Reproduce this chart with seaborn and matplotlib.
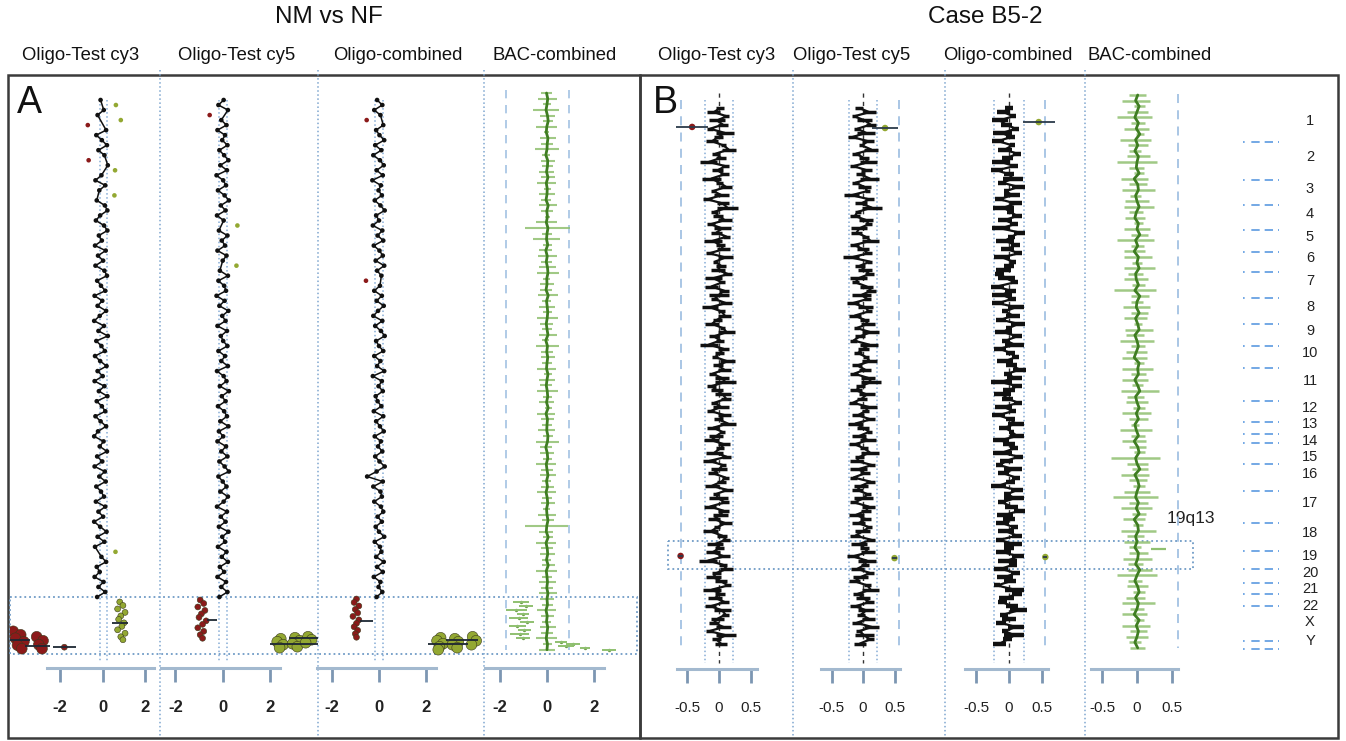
import numpy as np
import pandas as pd
import seaborn as sns
import matplotlib.pyplot as plt
from matplotlib.patches import Rectangle

sns.set_theme(style="white")
plt.rcParams["font.family"] = ["Liberation Sans", "DejaVu Sans"]

W, H = 1346, 741

# ---------------- values ----------------
chrom_names = [str(i) for i in range(1, 23)] + ["X", "Y"]
# chromosome ends along the case B5-2 genome axis (0-100)
chrom_ends = [6.3, 13.3, 17.9, 22.6, 26.6, 30.3, 35.1, 39.9, 44.0, 48.1, 54.2, 58.0,
              60.3, 61.9, 65.8, 70.8, 76.7, 81.9, 85.2, 87.8, 89.8, 92.1, 98.5, 100.0]

column_titles = ["Oligo-Test cy3", "Oligo-Test cy5", "Oligo-combined", "BAC-combined"]

# panel A (NM vs NF): autosomal log2 ratios, genome position 0-100
nm_cy3 = [-0.10, 0.62, 0.05, -0.24, 0.85, -0.70, 0.16, -0.30, -0.04, 0.20,
          -0.20, 0.08, -0.66, 0.24, 0.58, -0.06, -0.34, 0.12, -0.16, 0.55,
          -0.28, 0.10, 0.22, -0.12, -0.32, 0.06, 0.22, -0.18, -0.04, -0.36,
          0.14, -0.22, 0.02, -0.34, 0.08, 0.20, -0.26, -0.08, 0.12, -0.38,
          -0.02, -0.24, 0.16, -0.14, -0.40, 0.06, -0.20, 0.24, -0.30, -0.06,
          0.10, -0.36, -0.12, 0.18, -0.24, 0.00, -0.38, 0.08, -0.18, 0.22,
          -0.28, -0.04, 0.12, -0.34, -0.10, 0.16, -0.22, -0.40, 0.04, -0.14,
          0.20, -0.26, -0.02, -0.38, 0.10, -0.16, 0.14, -0.30, -0.08, 0.06,
          -0.32, 0.12, -0.20, 0.02, -0.40, -0.12, 0.18, -0.24, 0.08, -0.36,
          0.60, -0.06, 0.16, -0.28, -0.14, -0.38, 0.04, -0.20, 0.12, -0.26]
nm_cy5 = [0.04, -0.18, 0.22, -0.55, -0.06, 0.16, -0.22, 0.10, -0.02, 0.20,
          -0.14, 0.06, 0.24, -0.10, 0.18, -0.26, 0.02, 0.14, -0.20, 0.08,
          0.26, -0.08, 0.12, -0.24, 0.04, 0.62, -0.16, 0.20, -0.04, 0.10,
          -0.22, 0.16, 0.00, 0.58, -0.12, 0.22, -0.18, 0.06, 0.14, -0.26,
          0.08, -0.14, 0.24, -0.02, 0.12, -0.22, 0.18, -0.08, 0.02, 0.20,
          -0.18, 0.10, -0.06, 0.22, -0.24, 0.04, 0.16, -0.12, 0.26, -0.04,
          0.12, -0.20, 0.06, 0.18, -0.10, 0.24, -0.16, 0.02, -0.22, 0.14,
          -0.06, 0.20, -0.14, 0.08, 0.26, -0.18, 0.00, 0.16, -0.10, 0.22,
          0.04, -0.24, 0.18, -0.08, 0.12, -0.16, 0.24, -0.02, 0.10, -0.20,
          0.16, -0.04, 0.22, -0.12, 0.06, -0.22, 0.14, -0.06, 0.20, -0.14]
nm_comb = [-0.08, 0.14, -0.20, 0.06, -0.52, 0.18, -0.12, 0.02, 0.22, -0.16,
           0.10, -0.24, 0.04, 0.20, -0.10, 0.16, -0.28, 0.08, -0.02, 0.12,
           -0.18, 0.06, 0.24, -0.12, 0.00, -0.26, 0.14, -0.06, 0.18, -0.22,
           0.02, 0.16, -0.14, 0.22, -0.08, 0.10, -0.55, 0.04, -0.20, 0.12,
           -0.10, 0.20, -0.04, -0.24, 0.14, -0.16, 0.08, 0.24, -0.12, 0.00,
           0.18, -0.20, 0.06, -0.08, 0.22, -0.26, 0.12, -0.02, 0.16, -0.14,
           -0.06, 0.10, -0.22, 0.18, -0.12, 0.04, 0.20, -0.18, 0.08, -0.04,
           0.14, -0.16, 0.02, 0.24, -0.10, -0.50, 0.16, -0.24, 0.06, 0.12,
           -0.20, 0.08, 0.18, -0.06, 0.12, -0.14, 0.00, 0.22, -0.18, 0.04,
           0.10, -0.12, 0.20, -0.08, 0.16, -0.22, 0.06, -0.02, 0.14, -0.10]
nm_bac = [-0.02, 0.03, 0.00, -0.04, 0.02, 0.05, -0.01, -0.03, 0.04, 0.01,
          0.00, -0.05, 0.03, 0.02, -0.02, 0.04, -0.03, 0.01, 0.00, -0.04,
          0.05, -0.01, 0.02, -0.03, 0.04, 0.00, -0.02, 0.03, -0.05, 0.01,
          -0.03, 0.02, 0.04, -0.01, 0.00, -0.04, 0.05, -0.02, 0.01, 0.03,
          0.01, -0.03, 0.00, 0.04, -0.05, 0.02, -0.01, 0.03, 0.00, -0.02,
          0.04, 0.00, -0.03, 0.01, 0.03, -0.02, 0.05, -0.04, 0.02, 0.00,
          -0.01, 0.04, 0.02, -0.05, 0.01, 0.03, -0.03, 0.00, 0.04, -0.02,
          0.02, -0.04, 0.01, 0.03, -0.02, 0.00, 0.04, -0.01, -0.03, 0.05,
          -0.04, 0.01, 0.03, -0.02, 0.05, -0.03, 0.00, 0.02, -0.01, 0.04,
          0.00, 0.02, -0.04, 0.01, -0.02, 0.03, 0.00, -0.03, 0.02, 0.00]
nm_bac_err = [0.25, 0.40, 0.15, 0.55, 0.30, 0.20, 0.45, 0.10, 0.35, 0.25,
              0.50, 0.18, 0.30, 0.22, 0.30, 0.28, 0.40, 0.15, 0.32, 0.20,
              0.38, 0.25, 0.12, 0.45, 0.95, 0.20, 0.55, 0.18, 0.28, 0.40,
              0.22, 0.35, 0.48, 0.15, 0.30, 0.25, 0.42, 0.20, 0.33, 0.18,
              0.45, 0.28, 0.20, 0.38, 0.15, 0.50, 0.25, 0.30, 0.22, 0.40,
              0.18, 0.32, 0.26, 0.44, 0.20, 0.30, 0.15, 0.38, 0.28, 0.22,
              0.35, 0.20, 0.48, 0.25, 0.30, 0.18, 0.42, 0.26, 0.34, 0.20,
              0.28, 0.40, 0.22, 0.30, 0.15, 0.36, 0.24, 0.90, 0.30, 0.20,
              0.42, 0.25, 0.32, 0.18, 0.28, 0.45, 0.20, 0.35, 0.26, 0.38,
              0.30, 0.22, 0.40, 0.28, 0.18, 0.34, 0.25, 0.45, 0.20, 0.32]

# panel A: sex chromosome clones (genome position 100-111)
nm_cy3_sex_pos = [101.0, 101.7, 102.4, 103.1, 103.8, 104.5, 105.2, 105.9, 106.6, 107.3, 108.0, 108.6,
                  106.9, 107.6, 108.3, 109.0, 109.7, 110.4, 108.0, 108.8, 109.6, 110.4, 110.1]
nm_cy3_sex_val = [0.80, 0.95, 0.70, 1.05, 0.85, 0.75, 1.00, 0.90, 0.70, 1.05, 0.85, 0.95,
                  -4.20, -3.85, -4.10, -3.70, -4.00, -3.80, -3.10, -2.80, -3.00, -2.85, -1.80]
nm_cy3_bar_pos = [105.2, 108.6, 109.9, 110.1]
nm_cy3_bar_val = [0.82, -3.88, -3.06, -1.79]
nm_cy3_bar_err = [0.38, 0.47, 0.59, 0.54]

nm_cy5_sex_pos = [100.6, 101.3, 102.0, 102.7, 103.4, 104.1, 104.8, 105.5, 106.2, 106.9, 107.6, 108.3,
                  108.4, 109.0, 109.6, 110.2, 108.2, 108.8, 109.4, 110.0, 108.0, 108.6, 109.2]
nm_cy5_sex_val = [-0.95, -0.80, -1.05, -0.75, -0.90, -1.00, -0.70, -0.85, -1.05, -0.80, -0.95, -0.85,
                  2.45, 2.30, 2.55, 2.40, 3.05, 3.25, 2.95, 3.15, 3.60, 3.75, 3.50]
nm_cy5_bar_pos = [104.7, 109.5, 108.2]
nm_cy5_bar_val = [-0.45, 3.00, 3.40]
nm_cy5_bar_err = [0.20, 1.00, 0.60]

nm_comb_sex_pos = [100.4, 101.1, 101.8, 102.5, 103.2, 103.9, 104.6, 105.3, 106.0, 106.7, 107.4, 108.1,
                   108.2, 108.8, 109.4, 110.0, 110.6, 108.4, 109.0, 109.6, 110.2, 108.0, 108.8, 109.6]
nm_comb_sex_val = [-0.95, -1.05, -0.85, -1.00, -0.90, -1.10, -0.85, -0.95, -1.05, -0.90, -1.00, -0.95,
                   2.60, 2.45, 2.70, 2.55, 2.50, 3.20, 3.35, 3.10, 3.30, 3.95, 4.10, 3.90]
nm_comb_bar_pos = [104.8, 109.4, 108.6]
nm_comb_bar_val = [-0.52, 2.90, 3.50]
nm_comb_bar_err = [0.27, 0.85, 0.67]

nm_bac_sex_pos = [101.0, 101.8, 102.6, 103.4, 104.2, 105.0, 105.8, 106.6, 107.4, 108.2,
                  109.0, 109.4, 109.8, 110.2, 110.6]
nm_bac_sex_val = [-1.10, -0.90, -1.30, -1.00, -1.20, -0.85, -1.25, -0.95, -1.15, -1.00,
                  0.60, 1.10, 0.80, 1.60, 2.60]
nm_bac_sex_err = [0.35, 0.30, 0.45, 0.25, 0.40, 0.30, 0.35, 0.28, 0.40, 0.30,
                  0.25, 0.30, 0.35, 0.20, 0.30]

# panel B (case B5-2): log2 ratios and their spread, genome position 0-100
b5_cy3 = [0.02, -0.08, 0.12, -0.03, 0.06, -0.14, 0.09, -0.01, -0.11, 0.07,
          0.15, -0.05, 0.03, -0.16, 0.10, -0.02, 0.08, -0.12, 0.01, 0.11,
          -0.09, 0.04, -0.18, 0.06, 0.13, -0.07, -0.01, 0.09, -0.13, 0.05,
          -0.04, 0.12, -0.10, 0.02, 0.07, -0.15, 0.10, -0.06, 0.03, -0.02,
          0.14, -0.09, 0.05, -0.12, 0.08, 0.00, -0.07, 0.11, -0.14, 0.04,
          0.09, -0.03, -0.11, 0.06, 0.12, -0.08, 0.02, -0.16, 0.07, 0.01,
          -0.06, 0.13, -0.02, 0.08, -0.10, 0.04, 0.10, -0.12, -0.03, 0.06,
          0.11, -0.07, 0.03, -0.13, 0.09, -0.01, 0.14, -0.09, 0.05, -0.04,
          -0.12, 0.08, 0.02, -0.07, 0.12, -0.15, 0.06, 0.00, -0.09, 0.10,
          0.04, -0.11, 0.13, -0.05, -0.01, 0.09, -0.14, 0.07, 0.02, -0.08,
          0.10, -0.03, -0.13, 0.05, 0.11, -0.06, 0.01, -0.10, 0.08, -0.17,
          0.06, 0.12, -0.04, -0.09, 0.03, 0.14, -0.11, 0.02, -0.06, 0.09,
          -0.13, 0.05, 0.10, -0.02, -0.08, 0.07, -0.15, 0.11, -0.04, 0.03]
b5_cy5 = [-0.06, 0.10, -0.14, 0.03, 0.12, -0.09, 0.05, -0.17, 0.08, -0.02,
          0.13, -0.11, 0.01, 0.09, -0.15, 0.06, -0.04, 0.11, -0.12, 0.02,
          0.07, -0.18, 0.10, -0.03, 0.14, -0.08, -0.13, 0.05, 0.09, -0.06,
          -0.10, 0.04, 0.12, -0.14, 0.00, 0.08, -0.19, 0.11, -0.05, 0.03,
          0.10, -0.07, -0.12, 0.06, 0.13, -0.02, 0.07, -0.16, 0.04, 0.09,
          -0.13, 0.02, 0.08, -0.10, 0.12, -0.05, -0.15, 0.10, 0.01, -0.08,
          0.05, 0.11, -0.09, 0.03, -0.14, 0.08, 0.13, -0.04, -0.11, 0.06,
          -0.02, -0.16, 0.09, 0.04, -0.08, 0.12, -0.12, 0.00, 0.10, -0.06,
          0.08, -0.13, 0.02, 0.11, -0.05, -0.10, 0.14, -0.07, 0.03, -0.15,
          0.12, -0.03, -0.09, 0.07, 0.01, -0.14, 0.09, 0.05, -0.11, 0.04,
          -0.07, 0.10, -0.01, -0.12, 0.13, -0.06, 0.02, 0.08, -0.16, 0.06,
          0.03, -0.09, 0.11, -0.04, -0.13, 0.07, 0.12, -0.08, 0.00, 0.10,
          -0.12, 0.05, -0.03, 0.09, -0.10, 0.14, -0.06, 0.02, 0.11, -0.05]
b5_comb = [0.00, -0.08, 0.06, -0.14, -0.04, 0.10, -0.10, 0.02, -0.16, 0.05,
           -0.06, 0.12, -0.02, -0.12, 0.08, -0.18, 0.00, 0.06, -0.10, 0.14,
           -0.04, 0.04, -0.14, 0.10, -0.08, 0.02, 0.12, -0.06, 0.08, -0.12,
           0.16, 0.04, -0.06, 0.10, -0.02, 0.14, -0.10, 0.06, 0.00, -0.08,
           -0.14, -0.04, 0.08, -0.18, 0.02, -0.10, 0.04, -0.16, 0.10, -0.06,
           0.06, -0.12, 0.14, 0.00, -0.08, 0.12, -0.04, 0.08, -0.14, 0.02,
           0.10, -0.06, 0.04, 0.16, -0.02, 0.08, -0.12, 0.12, 0.00, -0.10,
           -0.02, 0.14, -0.08, 0.06, -0.16, 0.02, 0.10, -0.06, 0.04, 0.12,
           -0.12, 0.00, 0.08, -0.10, 0.14, -0.04, -0.14, 0.06, -0.08, 0.10,
           0.02, -0.16, 0.12, -0.02, 0.08, -0.10, 0.04, 0.16, -0.06, 0.00,
           -0.10, 0.08, -0.04, 0.12, -0.14, 0.06, 0.00, -0.08, 0.14, -0.02,
           0.06, -0.12, 0.10, -0.06, 0.02, -0.18, 0.08, 0.12, -0.04, -0.10,
           0.04, 0.14, -0.08, 0.00, -0.12, 0.10, -0.06, 0.08, -0.02, -0.14]
b5_err = [0.06, 0.10, 0.04, 0.12, 0.08, 0.05, 0.14, 0.07, 0.09, 0.04,
          0.11, 0.06, 0.08, 0.13, 0.05, 0.09, 0.07, 0.15, 0.06, 0.10,
          0.04, 0.12, 0.07, 0.09, 0.16, 0.05, 0.08, 0.11, 0.06, 0.13,
          0.09, 0.05, 0.14, 0.07, 0.10, 0.06, 0.12, 0.04, 0.08, 0.11,
          0.07, 0.13, 0.05, 0.10, 0.08, 0.15, 0.06, 0.09, 0.12, 0.05,
          0.10, 0.07, 0.11, 0.04, 0.13, 0.08, 0.06, 0.14, 0.09, 0.07,
          0.05, 0.12, 0.08, 0.10, 0.06, 0.11, 0.16, 0.07, 0.09, 0.13,
          0.08, 0.06, 0.13, 0.05, 0.10, 0.07, 0.12, 0.09, 0.04, 0.11,
          0.12, 0.09, 0.06, 0.14, 0.07, 0.10, 0.05, 0.13, 0.08, 0.06,
          0.07, 0.11, 0.09, 0.05, 0.15, 0.06, 0.10, 0.08, 0.12, 0.09,
          0.10, 0.05, 0.12, 0.08, 0.06, 0.13, 0.07, 0.11, 0.09, 0.14,
          0.06, 0.10, 0.07, 0.12, 0.09, 0.05, 0.14, 0.08, 0.11, 0.07,
          0.09, 0.13, 0.06, 0.10, 0.08, 0.12, 0.05, 0.15, 0.07, 0.10]
b5_bac = [0.01, -0.02, 0.03, 0.00, -0.03, 0.02, -0.01, 0.04, -0.02, 0.01,
          -0.03, 0.02, 0.00, -0.01, 0.03, -0.04, 0.01, 0.02, -0.02, 0.00,
          0.03, -0.01, -0.03, 0.02, 0.00, 0.04, -0.02, 0.01, -0.04, 0.02,
          0.00, 0.03, -0.02, -0.01, 0.02, -0.03, 0.04, 0.00, -0.01, 0.03,
          -0.02, 0.01, 0.03, -0.03, 0.00, 0.02, -0.01, -0.04, 0.03, 0.01,
          0.02, -0.03, 0.01, 0.04, -0.02, 0.00, 0.03, -0.01, 0.02, -0.03,
          -0.01, 0.02, -0.04, 0.01, 0.03, -0.02, 0.00, 0.04, -0.03, 0.01,
          0.03, 0.00, -0.02, 0.02, -0.01, 0.03, -0.04, 0.01, 0.02, -0.02,
          0.00, -0.03, 0.02, 0.01, -0.02, 0.04, 0.00, -0.03, 0.01, 0.03,
          -0.02, 0.02, 0.00, -0.04, 0.03, -0.01, 0.02, 0.00, -0.03, 0.01]
b5_bac_err = [0.12, 0.20, 0.08, 0.15, 0.25, 0.10, 0.18, 0.06, 0.22, 0.14,
              0.09, 0.16, 0.28, 0.11, 0.07, 0.19, 0.13, 0.24, 0.08, 0.17,
              0.21, 0.10, 0.14, 0.06, 0.18, 0.12, 0.26, 0.09, 0.15, 0.20,
              0.07, 0.22, 0.11, 0.17, 0.09, 0.30, 0.13, 0.08, 0.19, 0.12,
              0.16, 0.06, 0.20, 0.13, 0.24, 0.10, 0.15, 0.18, 0.07, 0.22,
              0.11, 0.19, 0.08, 0.27, 0.12, 0.16, 0.09, 0.21, 0.14, 0.06,
              0.23, 0.10, 0.17, 0.12, 0.08, 0.35, 0.15, 0.11, 0.20, 0.13,
              0.09, 0.18, 0.32, 0.14, 0.22, 0.10, 0.16, 0.07, 0.25, 0.12,
              0.19, 0.08, 0.13, 0.21, 0.11, 0.17, 0.28, 0.10, 0.15, 0.09,
              0.14, 0.24, 0.10, 0.18, 0.07, 0.20, 0.12, 0.16, 0.09, 0.11]

# panel B: isolated outlying clones (position, log2 ratio, spread)
b5_cy3_out = ([3.5, 82.8], [-0.42, -0.60], [0.25, 0.04])
b5_cy5_out = ([3.7, 83.2], [0.35, 0.50], [0.20, 0.04])
b5_comb_out = ([2.6, 83.0], [0.45, 0.55], [0.24, 0.03])
b5_bac_out = ([81.6], [0.31], [0.11])

# ---------------- styling ----------------
RED, GREEN, BLACK = "#8b1a1a", "#93a832", "#111111"
BAC_LIGHT, BAC_DARK = "#8fc070", "#3f7d22"
BLUE_DOT, BLUE_DASH = "#86acd6", "#a3c2e3"
call_colors = {"gain": GREEN, "loss": RED, "normal": BLACK}

A_TOP, A_SCALE = 100, 4.97     # px of genome position 0, px per unit
B_TOP, B_SCALE = 108, 5.41
AX_TOP = 78

fig = plt.figure(figsize=(W / 100, H / 100), dpi=100)

# overlay in pixel coordinates for frames, separators and headings
ov = fig.add_axes([0, 0, 1, 1])
ov.set_xlim(0, W)
ov.set_ylim(H, 0)
ov.axis("off")


def px_axes(x0, x1, y1):
    ax = fig.add_axes([x0 / W, 1 - y1 / H, (x1 - x0) / W, (y1 - AX_TOP) / H])
    ax.patch.set_alpha(0)
    return ax


def finish_axes(ax, x0, x1, zero, scale, ylim, bounds, ticks, labels, font):
    ax.set_xlim((x0 - zero) / scale, (x1 - zero) / scale)
    ax.set_ylim(*ylim)
    sns.despine(ax=ax, left=True)
    ax.spines["bottom"].set_bounds(*bounds)
    ax.spines["bottom"].set_color("#a3b9cf")
    ax.spines["bottom"].set_linewidth(2.2)
    ax.set_yticks([])
    ax.set_xticks(ticks)
    ax.set_xticklabels(labels, **font)
    ax.tick_params(axis="x", bottom=True, length=10, width=2, color="#7c96b2", pad=13)
    ax.set_xlabel("")
    ax.set_ylabel("")


def draw_nm_trace(ax, vals):
    df = pd.DataFrame({"pos": np.linspace(0, 100, len(vals)), "log2": vals})
    df["call"] = np.where(df["log2"] > 0.5, "gain", np.where(df["log2"] < -0.5, "loss", "normal"))
    sns.lineplot(data=df[df["call"] == "normal"], x="log2", y="pos", orient="y", sort=False,
                 estimator=None, color=BLACK, lw=1.1, ax=ax)
    sns.scatterplot(data=df, x="log2", y="pos", hue="call", palette=call_colors, s=11,
                    linewidth=0, legend=False, ax=ax)


def draw_sex(ax, pos, vals, bar_pos, bar_val, bar_err):
    df = pd.DataFrame({"pos": pos, "log2": vals})
    df["call"] = np.where(df["log2"] > 0, "gain", "loss")
    df["kind"] = np.where(df["log2"].abs() >= 2, "blob", "dot")
    sns.scatterplot(data=df, x="log2", y="pos", hue="call", palette=call_colors, size="kind",
                    sizes={"blob": 60, "dot": 18}, linewidth=0.4, edgecolor="#3a3a1a",
                    legend=False, ax=ax)
    bv, be = np.array(bar_val), np.array(bar_err)
    ax.hlines(bar_pos, bv - be, bv + be, color="#1d2733", lw=1.3, zorder=4)


def draw_case_trace(ax, vals, err, out, lw_err):
    df = pd.DataFrame({"pos": np.linspace(0, 99, len(vals)), "log2": vals, "err": err})
    ax.hlines(df["pos"], df["log2"] - df["err"], df["log2"] + df["err"], color=BLACK, lw=lw_err)
    sns.lineplot(data=df, x="log2", y="pos", orient="y", sort=False, estimator=None,
                 color=BLACK, lw=1.6, ax=ax)
    opos, oval, oerr = out
    ov_ = np.array(oval)
    ax.hlines(opos, ov_ - np.array(oerr), ov_ + np.array(oerr), color="#2b3a4a", lw=1.3)
    odf = pd.DataFrame({"pos": opos, "log2": oval})
    odf["call"] = np.where(odf["log2"] > 0, "gain", "loss")
    sns.scatterplot(data=odf, x="log2", y="pos", hue="call", palette=call_colors, s=22,
                    linewidth=0, legend=False, ax=ax)


def draw_bac(ax, vals, err, start, end, lw_err):
    df = pd.DataFrame({"pos": np.linspace(start, end, len(vals)), "log2": vals, "err": err})
    ax.hlines(df["pos"], df["log2"] - df["err"], df["log2"] + df["err"], color=BAC_LIGHT,
              lw=lw_err, alpha=0.85)
    sns.lineplot(data=df, x="log2", y="pos", orient="y", sort=False, estimator=None,
                 color=BAC_DARK, lw=2.0, ax=ax)


def vline(ax, x, y0, y1, color, ls, lw=1.0):
    ax.plot([x, x], [y0, y1], color=color, ls=ls, lw=lw, zorder=0)


# ---------------- panel A ----------------
a_ylim = ((668 - A_TOP) / A_SCALE, (AX_TOP - A_TOP) / A_SCALE)
a_font = dict(fontsize=12, fontweight="bold", color="#222222")
a_cols = [(10, 160, 102.7, 21.3), (160, 318, 222.7, 23.7), (318, 484, 379, 23.7), (484, 638, 547, 23.7)]
a_traces = [nm_cy3, nm_cy5, nm_comb]
a_sex = [(nm_cy3_sex_pos, nm_cy3_sex_val, nm_cy3_bar_pos, nm_cy3_bar_val, nm_cy3_bar_err),
         (nm_cy5_sex_pos, nm_cy5_sex_val, nm_cy5_bar_pos, nm_cy5_bar_val, nm_cy5_bar_err),
         (nm_comb_sex_pos, nm_comb_sex_val, nm_comb_bar_pos, nm_comb_bar_val, nm_comb_bar_err)]

for i, (x0, x1, zero, scale) in enumerate(a_cols):
    ax = px_axes(x0, x1, 668)
    if i < 3:
        vline(ax, -0.15, 0, 113, BLUE_DOT, ":", 1.1)
        vline(ax, 0.18, 0, 113, BLUE_DOT, ":", 1.1)
        draw_nm_trace(ax, a_traces[i])
        draw_sex(ax, *a_sex[i])
    else:
        vline(ax, -1.73, -2, 110.7, BLUE_DASH, (0, (5, 4)), 1.2)
        vline(ax, 0.93, -2, 110.7, BLUE_DASH, (0, (5, 4)), 1.2)
        draw_bac(ax, nm_bac, nm_bac_err, -1.4, 110.6, 1.5)
        sdf = pd.DataFrame({"pos": nm_bac_sex_pos, "log2": nm_bac_sex_val, "err": nm_bac_sex_err})
        ax.hlines(sdf["pos"], sdf["log2"] - sdf["err"], sdf["log2"] + sdf["err"], color=BAC_LIGHT, lw=1.4)
        sns.scatterplot(data=sdf, x="log2", y="pos", color="#6f9e4c", s=6, linewidth=0, ax=ax)
    finish_axes(ax, x0, x1, zero, scale, a_ylim, (-2.6, 2.4), [-2, 0, 2], ["-2", "0", "2"], a_font)

# ---------------- panel B ----------------
b_ylim = ((669 - B_TOP) / B_SCALE, (AX_TOP - B_TOP) / B_SCALE)
b_font = dict(fontsize=11, family=["Liberation Sans Narrow", "Liberation Sans"], color="#222222")
b_cols = [(642, 793, 719, 64), (793, 945, 863, 63), (945, 1085, 1009, 66), (1085, 1236, 1137, 70)]
b_traces = [(b5_cy3, b5_cy3_out, [-0.60], 2.5), (b5_cy5, b5_cy5_out, [0.57], 2.5),
            (b5_comb, b5_comb_out, [0.55], 3.2)]

for i, (x0, x1, zero, scale) in enumerate(b_cols):
    ax = px_axes(x0, x1, 669)
    if i < 3:
        vals, out, dashes, lw_err = b_traces[i]
        for d in dashes:
            vline(ax, d, -1.5, 100.5, BLUE_DASH, (0, (5, 4)), 1.3)
        vline(ax, -0.22, -1.5, 102.5, BLUE_DOT, ":", 1.1)
        vline(ax, 0.22, -1.5, 102.5, BLUE_DOT, ":", 1.1)
        vline(ax, 0, -2.8, 102.5, "#333333", (0, (3, 3)), 1.0)
        draw_case_trace(ax, vals, b5_err, out, lw_err)
    else:
        vline(ax, 0.59, -2.5, 99.8, BLUE_DASH, (0, (5, 4)), 1.3)
        draw_bac(ax, b5_bac, b5_bac_err, -2.4, 99.8, 1.8)
        opos, oval, oerr = b5_bac_out
        ax.hlines(opos, np.array(oval) - np.array(oerr), np.array(oval) + np.array(oerr),
                  color=BAC_LIGHT, lw=1.6)
    finish_axes(ax, x0, x1, zero, scale, b_ylim, (-0.66, 0.59), [-0.5, 0, 0.5],
                ["-0.5", "0", "0.5"], b_font)

# chromosome key of panel B
kx = px_axes(1236, 1336, 669)
kx.set_xlim(1236, 1336)
kx.set_ylim(*b_ylim)
kx.axis("off")
kx.hlines(chrom_ends, 1243, 1279, color="#5b9ae0", lw=1.2, ls=(0, (1, 4, 5, 3, 5, 3, 5, 3)))
starts = [0.0] + chrom_ends[:-1]
label_pos = []
for s, e in zip(starts, chrom_ends):
    y = (s + e) / 2 - 0.7
    if label_pos:
        y = max(y, label_pos[-1] + 3.05)   # keep small chromosomes' labels apart
    label_pos.append(y)
for name, y in zip(chrom_names, label_pos):
    kx.text(1310, y, name, ha="center", va="center", fontsize=10.5, color="#222222")

# ---------------- frames, separators and headings ----------------
ov.add_patch(Rectangle((8, 75), 632, 663, fill=False, ec="#3b3b3b", lw=1.8))
ov.add_patch(Rectangle((640, 75), 698, 663, fill=False, ec="#3b3b3b", lw=1.8))
for x in [160, 318, 484, 793, 945, 1085]:
    ov.plot([x, x], [70, 738], color="#7ea6cf", ls=":", lw=1.1)
ov.add_patch(Rectangle((10, 597), 627, 57, fill=False, ec="#6f9bc6", ls=":", lw=1.3))
ov.add_patch(Rectangle((668, 541), 525, 28, fill=False, ec="#6f9bc6", ls=":", lw=1.3))

ov.text(329, 17, "NM vs NF", ha="center", va="center", fontsize=17.5, color="#111111")
ov.text(985, 17, "Case B5-2", ha="center", va="center", fontsize=17.5, color="#111111")
for cx, t in zip([81, 237, 398, 555], column_titles):
    ov.text(cx, 55, t, ha="center", va="center", fontsize=13.3, color="#111111")
for cx, t in zip([717, 852, 1008, 1150], column_titles):
    ov.text(cx, 55, t, ha="center", va="center", fontsize=13.3, color="#111111")
ov.text(17, 103, "A", ha="left", va="center", fontsize=27, color="#111111")
ov.text(653, 103, "B", ha="left", va="center", fontsize=27, color="#111111")
ov.text(1191, 518, "19q13", ha="center", va="center", fontsize=12.5, color="#222222")

fig.savefig("out.png", dpi=100)
